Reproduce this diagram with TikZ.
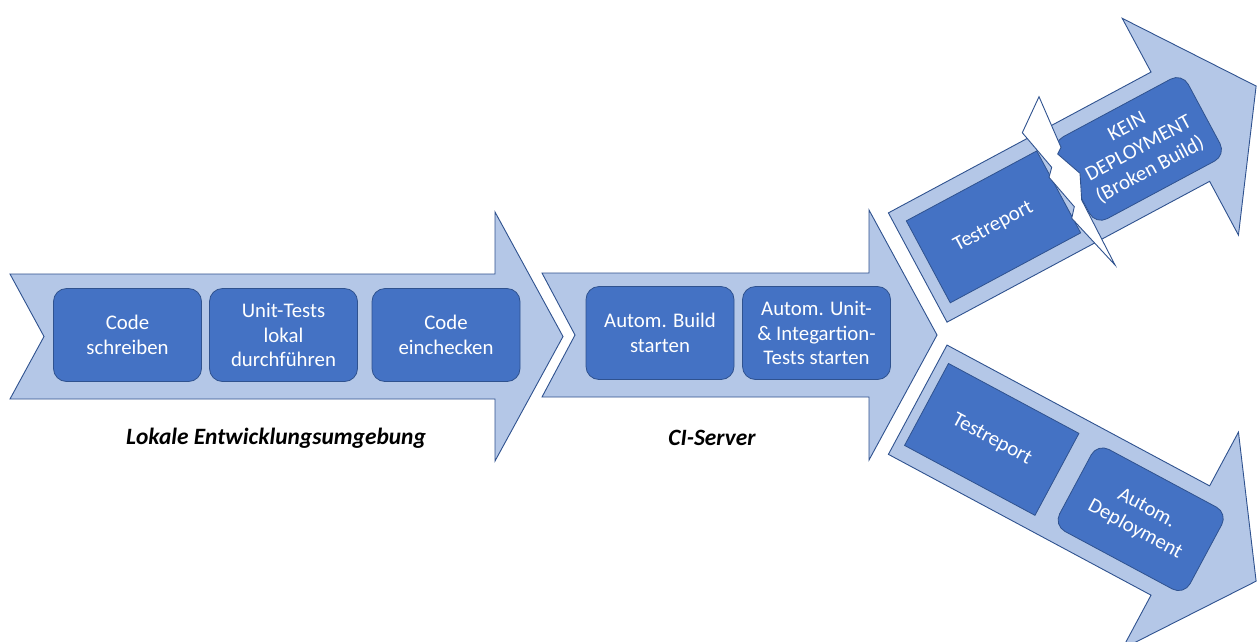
\documentclass[tikz,border=0pt]{standalone}
\usepackage{fontspec}
\setmainfont{Carlito}
\definecolor{arrowfill}{HTML}{B4C7E7}
\definecolor{boxfill}{HTML}{4472C4}
\definecolor{edge}{HTML}{2F528F}
\tikzset{
  flow/.style={fill=arrowfill, draw=edge, line width=0.9pt, line join=miter},
  stepbox/.style={fill=boxfill, draw=edge, line width=0.8pt, rounded corners=13pt,
    minimum width=148pt, minimum height=93pt, inner sep=0pt, align=center,
    text=white, font=\fontsize{20.8}{24.5}\selectfont},
  sqbox/.style={stepbox, rounded corners=0pt},
  caption/.style={font=\fontsize{23.4}{28}\selectfont\bfseries\itshape},
  bolt/.style={fill=white, draw=edge, line width=0.9pt, line join=miter}
}
\begin{document}
\begin{tikzpicture}[x=1pt,y=1pt]
\clip (0,0) rectangle (1257,-641);
\fill[white] (0,0) rectangle (1257,-641);

% Stage 1: local development
\draw[flow] (10,-274) -- (495,-274) -- (495,-212) -- (563,-336.5) -- (495,-461)
  -- (495,-399) -- (10,-399) -- (44,-336.5) -- cycle;
\node[stepbox] (write)  at (127.5,-335) {Code\\schreiben};
\node[stepbox] (unit)   at (283.5,-335) {Unit-Tests\\lokal\\durchführen};
\node[stepbox] (commit) at (446,-335)   {Code\\einchecken};
\node[caption] (local)  at (276,-438)   {Lokale Entwicklungsumgebung};

% Stage 2: CI server
\draw[flow] (542,-273) -- (869,-273) -- (869,-210) -- (937,-335) -- (869,-460)
  -- (869,-397) -- (542,-397) -- (575,-335) -- cycle;
\node[stepbox] (build) at (660,-333)   {Autom. Build\\starten};
\node[stepbox] (tests) at (816.5,-333) {Autom. Unit-\\\& Integartion-\\Tests starten};
\node[caption] (ci)    at (712,-438)   {CI-Server};

% Stage 3a: failed build
\begin{scope}[shift={(917.7,-267.5)}, rotate=28.2, transform shape]
  \draw[flow] (0,62) -- (298,62) -- (298,123) -- (384,0) -- (298,-123)
    -- (298,-62) -- (0,-62) -- cycle;
  \node[sqbox]   (reportA) at (86,0)  {Testreport};
  \node[stepbox] (nodeploy) at (251,0) {KEIN\\DEPLOYMENT\\(Broken Build)};
\end{scope}

% Lightning bolt breaking the failed path
\draw[bolt] (1039.0,-96.7) -- (1061.0,-147.3) -- (1057.7,-154.0) -- (1080.0,-173.3)
  -- (1081.7,-200.0) -- (1115.0,-265.0) -- (1071.7,-218.3) -- (1074.3,-206.7)
  -- (1049.0,-177.3) -- (1051.7,-167.3) -- (1022.3,-132.7) -- cycle;

% Stage 3b: successful build
\begin{scope}[shift={(917.7,-399.7)}, rotate=-28.2, transform shape]
  \draw[flow] (0,62) -- (298,62) -- (298,123) -- (384,0) -- (298,-123)
    -- (298,-62) -- (0,-62) -- cycle;
  \node[sqbox]   (reportB) at (84,0)  {Testreport};
  \node[stepbox] (deploy)  at (253,0) {Autom.\\Deployment};
\end{scope}
\end{tikzpicture}
\end{document}
